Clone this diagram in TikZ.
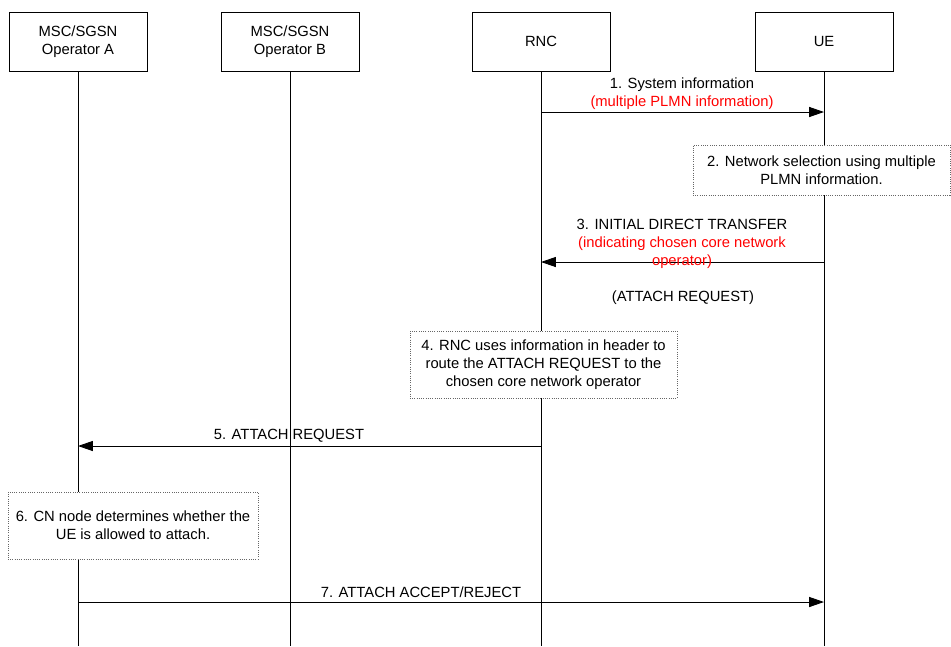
\documentclass[tikz,border=0pt]{standalone}
\usepackage{fontspec}
\setmainfont{Liberation Sans}
\usetikzlibrary{arrows.meta}

\tikzset{
  entity/.style={draw, fill=white, align=center, inner sep=0pt,
    minimum width=3.45cm, minimum height=1.475cm},
  note/.style={draw=black!60, densely dotted, fill=white, align=center, inner sep=0pt},
  lbl/.style={align=center, inner sep=0pt},
  msg/.style={-{Triangle[length=0.37cm,width=0.25cm]}},
}

\begin{document}
\begin{tikzpicture}[x=0.025cm,y=-0.025cm,font=\fontsize{10.5}{12.8}\selectfont,line width=0.6pt]
    \useasboundingbox (0,0) rectangle (951,646);
    % entities
    \node[entity] (opA) at (78,41.5) {MSC/SGSN\\Operator A};
    \node[entity] (opB) at (290,41.5) {MSC/SGSN\\Operator B};
    \node[entity] (rnc) at (541,41.5) {RNC};
    \node[entity] (ue) at (824,41.5) {UE};
    % lifelines
    \coordinate (opAend) at (78,646);
    \coordinate (opBend) at (290,646);
    \coordinate (rncend) at (541,646);
    \coordinate (ueend) at (824,646);
    \draw (opA.south) -- (opAend);
    \draw (opB.south) -- (opBend);
    \draw (rnc.south) -- (rncend);
    \draw (ue.south) -- (ueend);
    % message end points
    \coordinate (rnc1) at (541,112);
    \coordinate (ue1) at (824,112);
    \coordinate (ue3) at (824,262);
    \coordinate (rnc3) at (541,262);
    \coordinate (rnc5) at (541,446);
    \coordinate (opA5) at (78,446);
    \coordinate (opA7) at (78,602);
    \coordinate (ue7) at (824,602);
    \draw[msg] (rnc1) -- (ue1);
    \draw[msg] (ue3) -- (rnc3);
    \draw[msg] (rnc5) -- (opA5);
    \draw[msg] (opA7) -- (ue7);
    % notes
    \node[note, minimum width=6.425cm, minimum height=1.25cm] (n2) at (821.5,170) {2. Network selection using multiple\\PLMN information.};
    \node[note, minimum width=6.675cm, minimum height=1.675cm] (n4) at (543.5,364.5) {4. RNC uses information in header to\\route the ATTACH REQUEST to the\\chosen core network operator};
    \node[note, minimum width=6.25cm, minimum height=1.675cm] (n6) at (133,525.5) {6. CN node determines whether the\\UE is allowed to attach.};
    % labels
    \node[lbl] (m1) at (682,93.5) {1. System information\\\textcolor{red}{(multiple PLMN information)}};
    \node[lbl] (m3) at (682,244) {3. INITIAL DIRECT TRANSFER\\\textcolor{red}{(indicating chosen core network}\\\textcolor{red}{operator)}};
    \node[lbl] (m3b) at (683,298) {(ATTACH REQUEST)};
    \node[lbl] (m5) at (289,436) {5. ATTACH REQUEST};
    \node[lbl] (m7) at (421,592) {7. ATTACH ACCEPT/REJECT};
\end{tikzpicture}
\end{document}
